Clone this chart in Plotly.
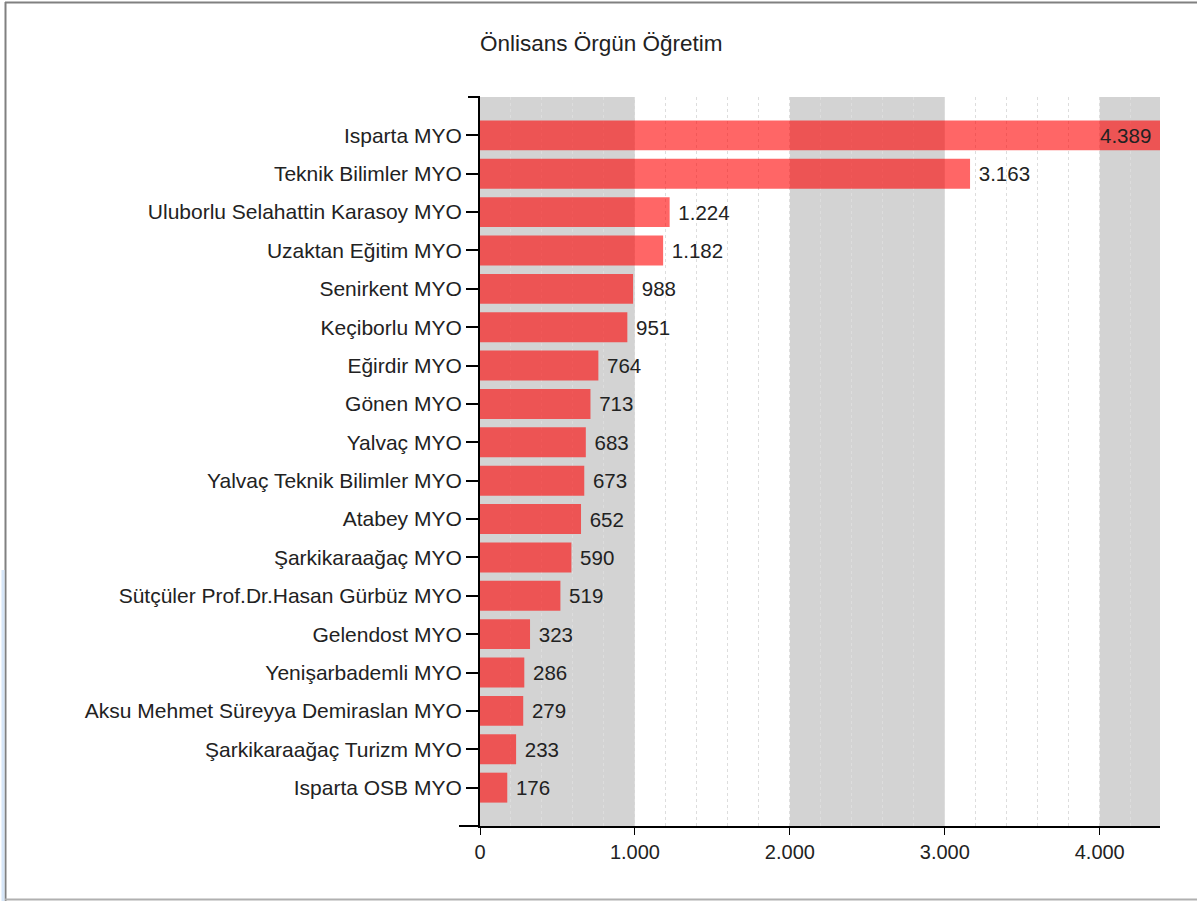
import plotly.graph_objects as go

title_text = "Önlisans Örgün Öğretim"
categories = [
    "Isparta MYO",
    "Teknik Bilimler MYO",
    "Uluborlu Selahattin Karasoy MYO",
    "Uzaktan Eğitim MYO",
    "Senirkent MYO",
    "Keçiborlu MYO",
    "Eğirdir MYO",
    "Gönen MYO",
    "Yalvaç MYO",
    "Yalvaç Teknik Bilimler MYO",
    "Atabey MYO",
    "Şarkikaraağaç MYO",
    "Sütçüler Prof.Dr.Hasan Gürbüz MYO",
    "Gelendost MYO",
    "Yenişarbademli MYO",
    "Aksu Mehmet Süreyya Demiraslan MYO",
    "Şarkikaraağaç Turizm MYO",
    "Isparta OSB MYO",
]
values = [4389, 3163, 1224, 1182, 988, 951, 764, 713, 683, 673, 652, 590, 519, 323, 286, 279, 233, 176]
tick_values = [0, 1000, 2000, 3000, 4000]
band_starts = [0, 2000, 4000]

W, H = 1197, 901
L, R, T, B = 480, 1160, 97, 826
xmax = max(values)
font_family = "Liberation Sans, Arial, sans-serif"
FS = 21
VS = 20.5

def px_x(px):
    return (px - L) / (R - L)

def px_y(py):
    return (B - py) / (B - T)

positions = ["inside" if v == xmax else "outside" for v in values]
templates = ["%{x:,d} " if v == xmax else " %{x:,d}" for v in values]

fig = go.Figure()
fig.add_trace(go.Bar(
    x=values,
    y=categories,
    orientation="h",
    width=0.78,
    marker=dict(color="rgba(255,0,0,0.6)", line=dict(width=0)),
    texttemplate=templates,
    textposition=positions,
    insidetextanchor="end",
    textfont=dict(family=font_family, size=VS, color="#222222"),
    insidetextfont=dict(family=font_family, size=VS, color="#222222"),
    outsidetextfont=dict(family=font_family, size=VS, color="#222222"),
    constraintext="none",
    cliponaxis=False,
    hoverinfo="x+y",
))

shapes = []
for s in band_starts:
    shapes.append(dict(type="rect", xref="x", yref="paper", x0=s, x1=min(s + 1000, xmax),
                       y0=0, y1=1, fillcolor="#D3D3D3", line=dict(width=0), layer="below"))
# y axis end ticks
shapes.append(dict(type="line", xref="paper", yref="paper", x0=px_x(468), x1=px_x(480),
                   y0=1, y1=1, line=dict(color="black", width=2)))
shapes.append(dict(type="line", xref="paper", yref="paper", x0=px_x(459), x1=px_x(480),
                   y0=0, y1=0, line=dict(color="black", width=2)))
# outer frame
shapes.append(dict(type="line", xref="paper", yref="paper", x0=px_x(5.5), x1=px_x(5.5),
                   y0=px_y(2), y1=px_y(901), line=dict(color="#808080", width=2)))
shapes.append(dict(type="line", xref="paper", yref="paper", x0=px_x(5), x1=px_x(1197),
                   y0=px_y(2.5), y1=px_y(2.5), line=dict(color="#808080", width=2)))
shapes.append(dict(type="line", xref="paper", yref="paper", x0=px_x(5), x1=px_x(1197),
                   y0=px_y(899.5), y1=px_y(899.5), line=dict(color="#B0B0B0", width=2)))
shapes.append(dict(type="line", xref="paper", yref="paper", x0=px_x(3), x1=px_x(3),
                   y0=px_y(570), y1=px_y(901), line=dict(color="#D6E6F8", width=3)))

fig.update_layout(
    width=W, height=H,
    margin=dict(l=L, r=W - R, t=T, b=H - B, pad=0),
    paper_bgcolor="white",
    plot_bgcolor="white",
    separators=",.",
    showlegend=False,
    font=dict(family=font_family, size=FS, color="#222222"),
    title=dict(text=title_text, x=0, xref="paper", xanchor="left",
               y=1 - 43 / H, yref="container", yanchor="middle",
               font=dict(family=font_family, size=22.5, color="#222222")),
    shapes=shapes,
    xaxis=dict(
        range=[0, xmax],
        tickvals=tick_values,
        tickformat=",d",
        showgrid=False,
        zeroline=False,
        showline=True, linecolor="black", linewidth=2,
        ticks="outside", ticklen=7, tickwidth=1, tickcolor="black",
        tickfont=dict(family=font_family, size=20, color="#222222"),
        minor=dict(dtick=200, tick0=0, showgrid=True, gridcolor="#DDDDDD",
                   griddash="dot", gridwidth=1, ticks=""),
        fixedrange=True,
    ),
    yaxis=dict(
        type="category",
        categoryorder="array",
        categoryarray=categories,
        range=[len(categories), -1],
        showgrid=False,
        zeroline=False,
        showline=True, linecolor="black", linewidth=2,
        ticks="outside", ticklen=12, tickwidth=2, tickcolor="black",
        ticklabelstandoff=0,
        tickfont=dict(family=font_family, size=FS, color="#222222"),
        fixedrange=True,
    ),
)

fig.write_html("out.html", config={"displayModeBar": False},
               post_script="document.body.style.margin='0';")
